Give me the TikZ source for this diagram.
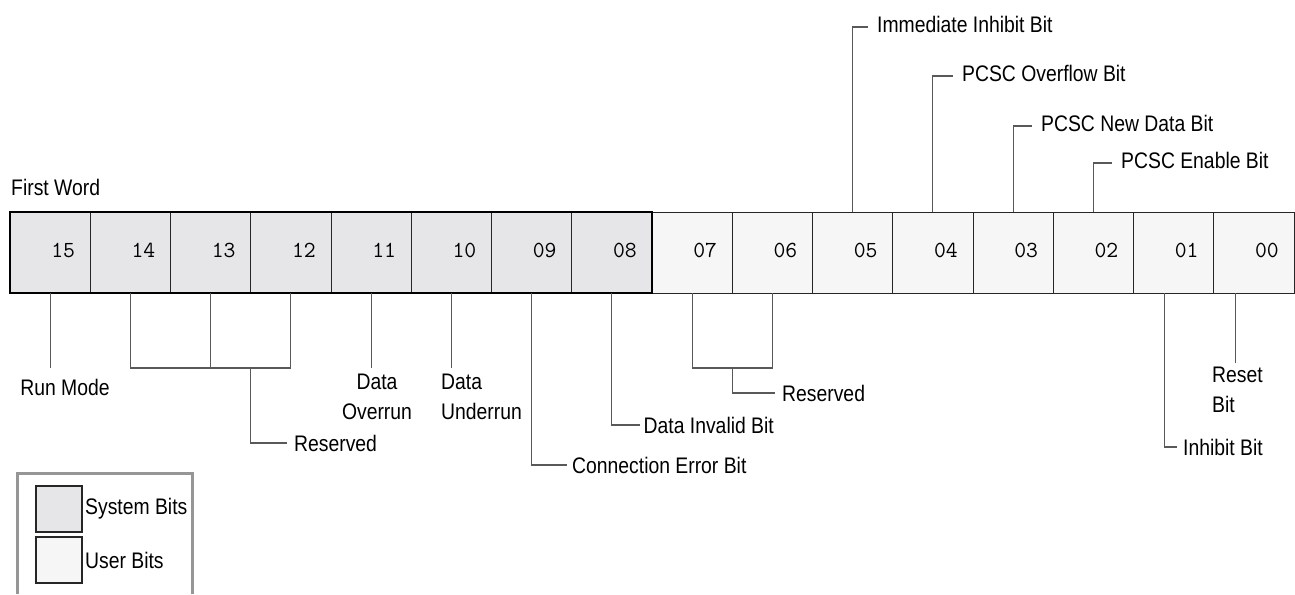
\documentclass[tikz,border=0pt]{standalone}
\usepackage{fontspec}
\setmainfont{Liberation Sans}[FakeStretch=0.86]
\definecolor{sysfill}{RGB}{230,230,232}
\definecolor{userfill}{RGB}{246,246,246}
\definecolor{framegray}{RGB}{150,150,150}
\begin{document}
\begin{tikzpicture}[x=1pt, y=-1pt, font=\fontsize{22.5}{30}\selectfont,
    sysbit/.style={draw=black!85, line width=1pt, fill=sysfill, minimum width=80.25pt, minimum height=81pt, inner sep=0pt, outer sep=0pt},
    userbit/.style={sysbit, fill=userfill},
    bitnum/.style={font=\ttfamily\fontsize{23}{26}\selectfont, inner sep=0pt},
    lead/.style={draw=black!65, line width=1.2pt},
    lbl/.style={anchor=west, inner sep=0pt, inner xsep=5pt},
    toplbl/.style={lbl, inner xsep=9pt, yshift=3pt}]
    \useasboundingbox (0,0) rectangle (1295,594);

    % Systembits
    \foreach \i in {0,...,7} {
        \pgfmathtruncatemacro\n{15-\i}
        \node[sysbit] (c\n) at (50.125+80.25*\i, 252.5) {};
        \node[bitnum] (n\n) at ([xshift=13pt, yshift=2.5pt]c\n.center) {\ifnum\n<10 0\fi\n};
    }
    % Userbits
    \foreach \i in {8,...,15} {
        \pgfmathtruncatemacro\n{15-\i}
        \node[userbit] (c\n) at (50.125+80.25*\i, 252.5) {};
        \node[bitnum] (n\n) at ([xshift=13pt, yshift=2.5pt]c\n.center) {0\n};
    }
    \draw[line width=2.5pt] (c15.north west) rectangle (c8.south east);
    \node[lbl, inner xsep=3pt] (first) at (8,187) {First Word};

    % Beschriftungen oben
    \node[toplbl] (imm) at (868,27) {Immediate Inhibit Bit};
    \node[toplbl] (ovf) at (953,76) {PCSC Overflow Bit};
    \node[toplbl] (new) at (1032,126) {PCSC New Data Bit};
    \node[toplbl] (ena) at (1112,163) {PCSC Enable Bit};
    \draw[lead] (c5.north) |- ([yshift=-3pt]imm.west);
    \draw[lead] (c4.north) |- ([yshift=-3pt]ovf.west);
    \draw[lead] (c3.north) |- ([yshift=-3pt]new.west);
    \draw[lead] (c2.north) |- ([yshift=-3pt]ena.west);

    % Beschriftungen unten
    \coordinate (low) at (0,368);
    \node[inner sep=0pt] (run) at (65,387) {Run Mode};
    \draw[lead] (c15.south) -- (c15.south |- low);

    \draw[lead] (c14.south) -- (c14.south |- low) -| (c12.south);
    \draw[lead] (c13.south) -- (c13.south |- low);
    \node[lbl, inner xsep=7pt] (res1) at (287,443) {Reserved};
    \draw[lead] (c13.south east |- low) |- (res1.west);

    \node[inner sep=0pt, align=center] (ovr) at (377,397) {Data\\Overrun};
    \draw[lead] (c11.south) -- (c11.south |- low);
    \node[lbl, align=left, inner xsep=3pt] (und) at (438,397) {Data\\Underrun};
    \draw[lead] (c10.south) -- (c10.south |- low);

    \node[lbl] (conn) at (567,465) {Connection Error Bit};
    \draw[lead] (c9.south) |- (conn.west);
    \node[lbl, inner xsep=3.5pt] (inv) at (640,425) {Data Invalid Bit};
    \draw[lead] (c8.south) |- (inv.west);

    \draw[lead] (c7.south) -- (c7.south |- low) -| (c6.south);
    \node[lbl, inner xsep=7pt] (res2) at (775,393) {Reserved};
    \draw[lead] (c7.south east |- low) |- (res2.west);

    \node[lbl, inner xsep=6pt] (inh) at (1177,447) {Inhibit Bit};
    \draw[lead] ([xshift=-9pt]c1.south) |- (inh.west);
    \node[lbl, align=left, inner xsep=3pt] (rst) at (1209,390) {Reset\\Bit};
    \draw[lead] ([xshift=-18pt]c0.south) -- ([xshift=-18pt]c0.south |- 0,363);

    % Legende
    \draw[line width=3pt, framegray] (17,594) -- (17,473) -- (192,473) -- (192,594);
    \node[sysbit, minimum width=46pt, minimum height=46pt, line width=1.3pt] (ksys) at (59,509) {};
    \node[userbit, minimum width=46pt, minimum height=46pt, line width=1.3pt] (kusr) at (59,560) {};
    \node[lbl, inner xsep=3pt] (tsys) at (ksys.east) {System Bits};
    \node[lbl, inner xsep=3pt] (tusr) at (kusr.east) {User Bits};
\end{tikzpicture}
\end{document}
